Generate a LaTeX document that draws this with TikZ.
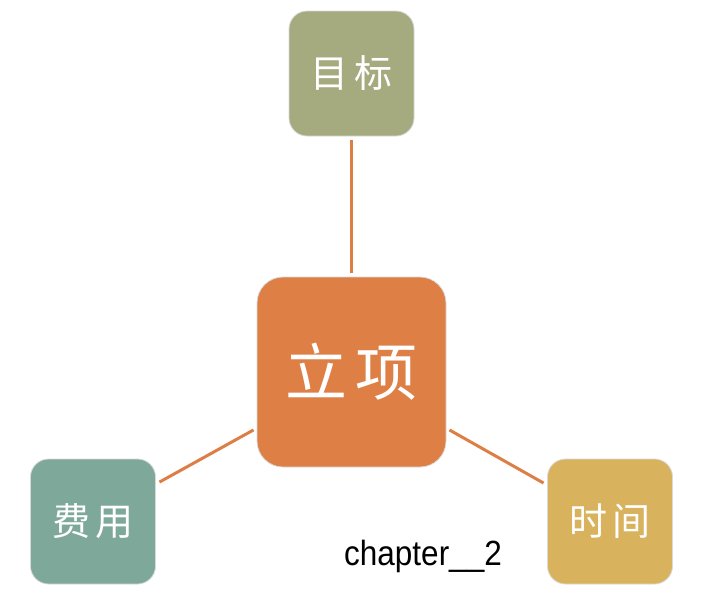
\documentclass[tikz,border=0pt]{standalone}
\usepackage{fontspec}
\setmainfont{Liberation Sans}
\newfontfamily\cjk{Noto Sans CJK SC}
\definecolor{cOrange}{HTML}{DE7F46}
\definecolor{cOlive}{HTML}{A5AB7F}
\definecolor{cTeal}{HTML}{7DA89A}
\definecolor{cGold}{HTML}{D9B25E}
\definecolor{cLine}{HTML}{DD7F45}
\begin{document}
\begin{tikzpicture}[x=1pt,y=-1pt,
  box/.style={draw=white!85!black, line width=0.8pt, rounded corners=18pt, minimum width=125pt, minimum height=125pt, inner sep=0pt, text=white, font=\cjk\fontsize{38}{40}\selectfont},
  bigbox/.style={box, rounded corners=26pt, minimum width=189pt, minimum height=190pt, font=\cjk\fontsize{62}{64}\selectfont},
  link/.style={draw=cLine, line width=3pt, shorten >=4pt, shorten <=4pt}]
\useasboundingbox (0,0) rectangle (708,606);
\node[bigbox, fill=cOrange] (c) at (351.5,372) {立\hspace{0.12em}项};
\node[box, fill=cOlive] (t) at (351.5,73.5) {目\hspace{0.15em}标};
\node[box, fill=cTeal] (l) at (93,521.5) {费\hspace{0.15em}用};
\node[box, fill=cGold] (r) at (610,521.5) {时\hspace{0.15em}间};
\draw[link] (t.south) -- (c.north);
\coordinate (la) at (156,484);
\coordinate (lb) at (257,428);
\coordinate (ra) at (446,428);
\coordinate (rb) at (547,485);
\draw[link] (la) -- (lb);
\draw[link] (ra) -- (rb);
\node[anchor=base west, inner sep=0pt, font=\fontsize{35}{38}\selectfont, xscale=0.9] (cap) at (344,565) {chapter\_\_2};
\end{tikzpicture}
\end{document}
